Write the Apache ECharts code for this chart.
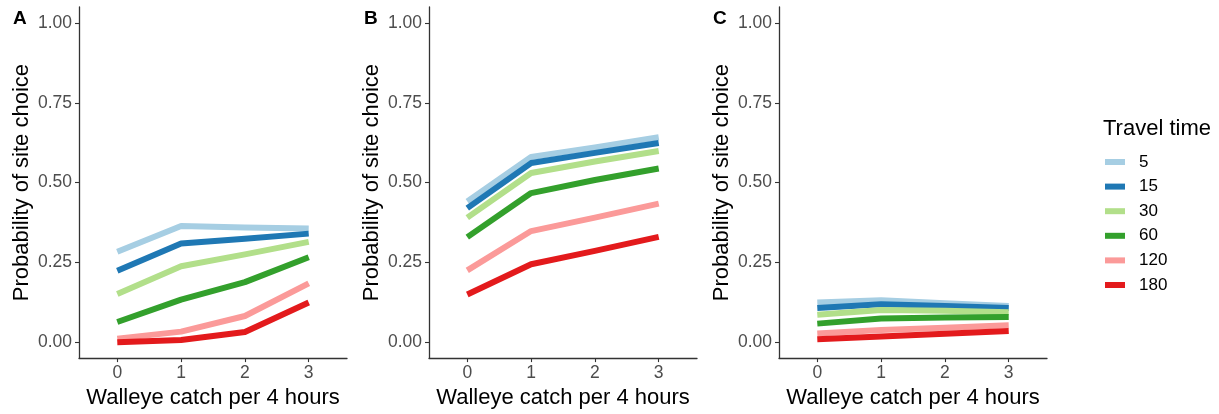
<!DOCTYPE html>
<html>
<head>
<meta charset="utf-8">
<script src="https://cdn.jsdelivr.net/npm/echarts@6/dist/echarts.min.js"></script>
<style>
  html, body { margin: 0; padding: 0; background: #fff; }
  #chart { width: 1219px; height: 414px; }
</style>
</head>
<body>
<div id="chart"></div>
<script>
// Walleye catch per 4 hours (x) and tick labels
const catchLevels = [0, 1, 2, 3];
const yTicks = [0, 0.25, 0.5, 0.75, 1];

// Travel time groups and their colours
const travelTimes = ['5', '15', '30', '60', '120', '180'];
const colors = ['#A6CEE3', '#1F78B4', '#B2DF8A', '#33A02C', '#FB9A99', '#E31A1C'];

// Panel labels
const panels = ['A', 'B', 'C'];

// Predicted probability of site choice, panel A (one array per travel time)
const panelA_5   = [0.283, 0.364, 0.359, 0.356];
const panelA_15  = [0.224, 0.309, 0.324, 0.340];
const panelA_30  = [0.151, 0.238, 0.275, 0.314];
const panelA_60  = [0.063, 0.133, 0.188, 0.266];
const panelA_120 = [0.011, 0.033, 0.082, 0.184];
const panelA_180 = [0.000, 0.007, 0.032, 0.124];

// Panel B
const panelB_5   = [0.441, 0.580, 0.610, 0.642];
const panelB_15  = [0.420, 0.561, 0.593, 0.624];
const panelB_30  = [0.390, 0.530, 0.566, 0.599];
const panelB_60  = [0.329, 0.467, 0.508, 0.544];
const panelB_120 = [0.225, 0.348, 0.390, 0.434];
const panelB_180 = [0.149, 0.244, 0.286, 0.330];

// Panel C
const panelC_5   = [0.124, 0.131, 0.122, 0.113];
const panelC_15  = [0.107, 0.119, 0.113, 0.107];
const panelC_30  = [0.086, 0.101, 0.098, 0.094];
const panelC_60  = [0.058, 0.074, 0.077, 0.079];
const panelC_120 = [0.027, 0.038, 0.045, 0.053];
const panelC_180 = [0.009, 0.018, 0.026, 0.035];

const panelData = [
  [panelA_5, panelA_15, panelA_30, panelA_60, panelA_120, panelA_180],
  [panelB_5, panelB_15, panelB_30, panelB_60, panelB_120, panelB_180],
  [panelC_5, panelC_15, panelC_30, panelC_60, panelC_120, panelC_180]
];

const FONT = 'Liberation Sans, Arial, sans-serif';
const gridLefts = [79, 429, 779];
const labelLefts = [8, 359, 708];
const gridWidth = 268;

const grids = [], xAxes = [], yAxes = [], series = [], titles = [];

gridLefts.forEach((left, p) => {
  grids.push({ left: left, top: 7, width: gridWidth, height: 352, containLabel: false });
  xAxes.push({
    type: 'value', gridIndex: p, min: -0.6, max: 3.6,
    name: 'Walleye catch per 4 hours', nameLocation: 'middle', nameGap: 27,
    nameTextStyle: { fontFamily: FONT, fontSize: 22, color: '#000' },
    axisLine: { show: true, onZero: false, lineStyle: { color: '#333', width: 1.3 } },
    axisTick: { show: true, length: 4, customValues: catchLevels, lineStyle: { color: '#333', width: 1.1 } },
    axisLabel: { customValues: catchLevels, margin: 6, fontFamily: FONT, fontSize: 17.5, color: '#4D4D4D',
                 formatter: v => String(v) },
    splitLine: { show: false }
  });
  yAxes.push({
    type: 'value', gridIndex: p, min: -0.05, max: 1.05,
    name: 'Probability of site choice', nameLocation: 'middle', nameGap: 46,
    nameTextStyle: { fontFamily: FONT, fontSize: 22, color: '#000' },
    axisLine: { show: true, onZero: false, lineStyle: { color: '#333', width: 1.3 } },
    axisTick: { show: true, length: 4, customValues: yTicks, lineStyle: { color: '#333', width: 1.1 } },
    axisLabel: { customValues: yTicks, margin: 7, fontFamily: FONT, fontSize: 17.5, color: '#4D4D4D',
                 formatter: v => v.toFixed(2) },
    splitLine: { show: false }
  });
  panelData[p].forEach((vals, i) => {
    series.push({
      type: 'line', name: travelTimes[i], xAxisIndex: p, yAxisIndex: p,
      data: catchLevels.map((x, k) => [x, vals[k]]),
      showSymbol: false, symbol: 'none', silent: true,
      lineStyle: { color: colors[i], width: 6, cap: 'butt', join: 'round' },
      itemStyle: { color: colors[i] },
      z: 2 + i
    });
  });
  titles.push({ text: panels[p], left: labelLefts[p], top: 4,
                textStyle: { fontFamily: FONT, fontSize: 19, fontWeight: 'bold', color: '#000' } });
});

titles.push({ text: 'Travel time', left: 1098, top: 113,
              textStyle: { fontFamily: FONT, fontSize: 22, fontWeight: 'normal', color: '#000' } });

const chart = echarts.init(document.getElementById('chart'), null, { renderer: 'canvas' });
chart.setOption({
  animation: false,
  backgroundColor: '#fff',
  title: titles,
  grid: grids,
  xAxis: xAxes,
  yAxis: yAxes,
  legend: {
    data: travelTimes.map((t, i) => ({ name: t, icon: 'rect', itemStyle: { color: colors[i] } })),
    orient: 'vertical', left: 1100, top: 148,
    itemWidth: 20, itemHeight: 6, itemGap: 6.6,
    selectedMode: false,
    textStyle: { fontFamily: FONT, fontSize: 17, color: '#000', lineHeight: 18, padding: [0, 0, 0, 9] }
  },
  series: series
});
</script>
</body>
</html>
